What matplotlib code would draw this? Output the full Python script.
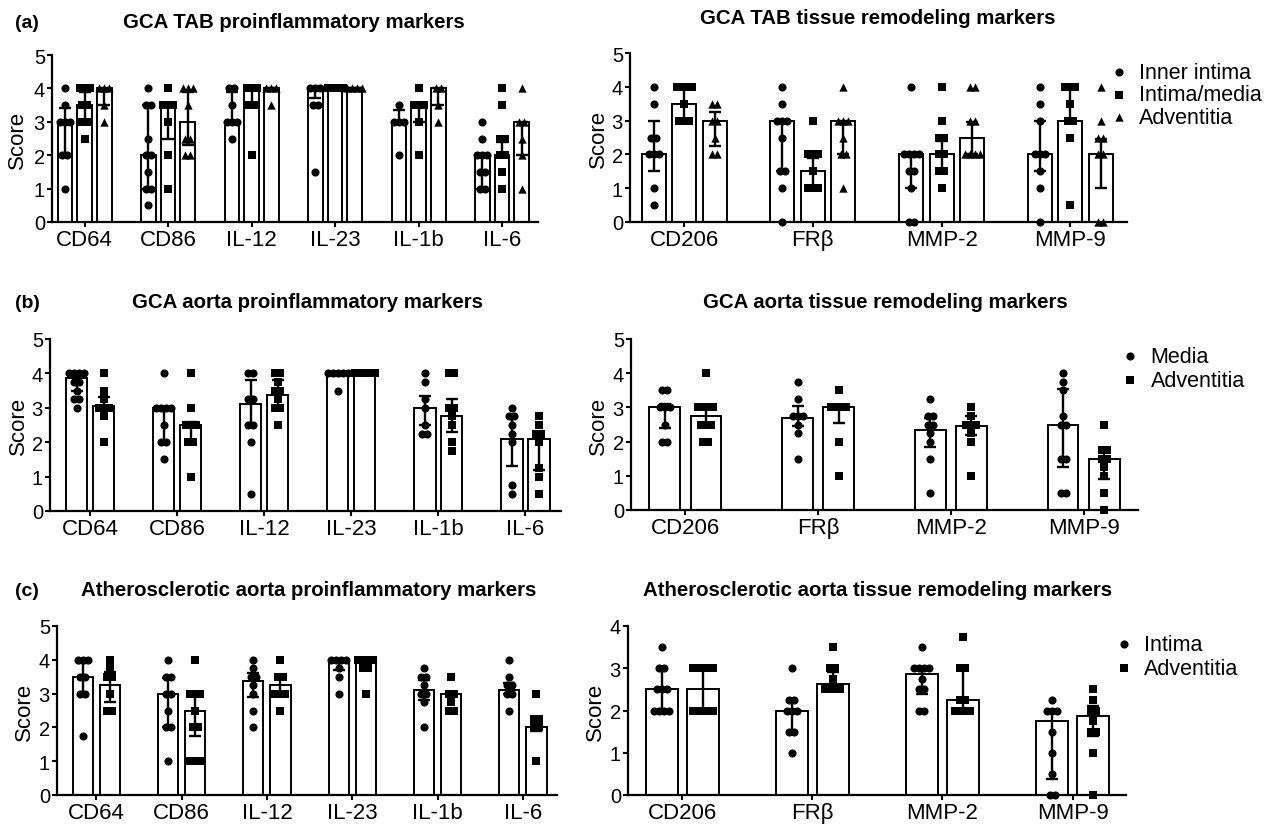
import numpy as np
import matplotlib.pyplot as plt

plt.rcParams["font.family"] = ["Liberation Sans", "DejaVu Sans"]

W, H = 1277, 828

pro_cats = ["CD64", "CD86", "IL-12", "IL-23", "IL-1b", "IL-6"]
rem_cats = ["CD206", "FRβ", "MMP-2", "MMP-9"]

# ---------- (a) GCA TAB proinflammatory ----------
a_pro_inner_bar = [3, 2, 3, 4, 3, 2]
a_pro_inner_lo = [2, 1, 3, 3.7, 3, 1]
a_pro_inner_hi = [3.4, 3.5, 3.9, 4, 3.35, 2]
a_pro_inner_pts = [
    [4, 3.5, 3, 3, 3, 2, 2, 1],
    [4, 3.5, 3.5, 2.5, 2, 2, 1.5, 1, 1, 0.5],
    [4, 4, 3.5, 3, 3, 3, 2.5],
    [4, 4, 4, 3.5, 3.5, 1.5],
    [3.5, 3, 3, 3, 2],
    [3, 2.5, 2, 2, 2, 1.5, 1.5, 1, 1],
]
a_pro_media_bar = [3.5, 3.5, 4, 4, 3.5, 2]
a_pro_media_lo = [3, 2.5, 3.5, 4, 3, 2]
a_pro_media_hi = [3.9, 3.5, 4, 4, 3.5, 2.4]
a_pro_media_pts = [
    [4, 4, 4, 3.5, 3.5, 3, 3, 2.5],
    [4, 3.5, 3.5, 3.5, 3, 2, 1],
    [4, 4, 4, 3.5, 3.5, 2],
    [4, 4, 4, 4],
    [4, 3.5, 3.5, 3.5, 3, 2],
    [4, 3.5, 2.5, 2.5, 2, 2, 1.5, 1],
]
a_pro_adv_bar = [4, 3, 4, 4, 4, 3]
a_pro_adv_lo = [3.5, 2.3, 4, 4, 3.5, 2]
a_pro_adv_hi = [4, 3.9, 4, 4, 4, 3]
a_pro_adv_pts = [
    [4, 4, 4, 3.5, 3],
    [4, 4, 4, 3.5, 2.5, 2.5, 2, 2],
    [4, 4, 4, 3.5],
    [4, 4, 4, 4],
    [4, 4, 3.5, 3],
    [4, 3, 3, 2.5, 2, 1],
]

# ---------- (a) GCA TAB tissue remodeling ----------
a_rem_inner_bar = [2, 3, 2, 2]
a_rem_inner_lo = [1.5, 1.5, 1, 1.5]
a_rem_inner_hi = [3, 3, 2, 3]
a_rem_inner_pts = [
    [4, 3.5, 2.5, 2.5, 2, 2, 2, 1, 0.5],
    [4, 3.5, 3, 3, 3, 2.5, 1.5, 1.5, 1, 0],
    [4, 2, 2, 2, 2, 1.5, 1.5, 1, 0, 0],
    [4, 3.5, 3, 2, 2, 2, 1.5, 1, 0],
]
a_rem_media_bar = [3.5, 1.5, 2, 3]
a_rem_media_lo = [3, 1, 1.5, 3]
a_rem_media_hi = [4, 1.9, 2.4, 4]
a_rem_media_pts = [
    [4, 4, 4, 4, 3.5, 3, 3, 3],
    [3, 2, 2, 2, 1.5, 1, 1, 1],
    [4, 3, 2.5, 2.5, 2, 2, 1.5, 1.5, 1],
    [4, 4, 4, 3.5, 3, 3, 2.5, 0.5],
]
a_rem_adv_bar = [3, 3, 2.5, 2]
a_rem_adv_lo = [2.25, 2, 2, 1]
a_rem_adv_hi = [3.25, 3, 2.95, 2.45]
a_rem_adv_pts = [
    [3.5, 3.5, 3, 3, 2.5, 2, 2],
    [4, 3, 3, 3, 2.5, 2, 2, 1],
    [4, 4, 3, 3, 2, 2, 2, 2],
    [4, 3, 2.5, 2.5, 2, 2, 0, 0],
]

# ---------- (b) GCA aorta proinflammatory ----------
b_pro_media_bar = [3.875, 3, 3.1, 4, 3, 2.1]
b_pro_media_lo = [3.5, 2, 2.5, 3.95, 2.5, 1.3]
b_pro_media_hi = [4, 3, 3.8, 4, 3.35, 2.75]
b_pro_media_pts = [
    [4, 4, 4, 4, 3.75, 3.75, 3.5, 3.25, 3.25, 3],
    [4, 3, 3, 3, 3, 2.5, 2, 2, 1.5],
    [4, 4, 3.25, 3.25, 2.5, 2.5, 2, 0.5],
    [4, 4, 4, 4, 4, 3.5],
    [4, 3.75, 3.25, 3, 2.5, 2.25, 2.25],
    [3, 2.75, 2.75, 2.5, 2.25, 2, 0.75, 0.5],
]
b_pro_adv_bar = [3.05, 2.5, 3.375, 4, 2.75, 2.1]
b_pro_adv_lo = [3, 2, 3, 4, 2.3, 1.2]
b_pro_adv_hi = [3.3, 2.6, 3.8, 4, 3.25, 2.3]
b_pro_adv_pts = [
    [4, 3.5, 3.25, 3, 3, 3, 2.75, 2],
    [4, 3, 2.5, 2.5, 2.5, 2, 2, 1],
    [4, 4, 3.75, 3.5, 3.5, 3.25, 3, 3, 2.5],
    [4, 4, 4, 4, 4],
    [4, 4, 3, 3, 2.75, 2.5, 2, 1.75],
    [2.75, 2.5, 2.25, 2.25, 2, 1.25, 1, 0.5],
]

# ---------- (b) GCA aorta tissue remodeling ----------
b_rem_media_bar = [3, 2.7, 2.35, 2.5]
b_rem_media_lo = [2.4, 2.45, 1.85, 1.25]
b_rem_media_hi = [3.1, 3.05, 2.7, 3.55]
b_rem_media_pts = [
    [3.5, 3.5, 3, 3, 3, 2.5, 2, 2],
    [3.75, 3.25, 2.75, 2.75, 2.75, 2.5, 2.25, 1.5],
    [3.25, 2.75, 2.75, 2.5, 2.5, 2.25, 2, 1.5, 0.5],
    [4, 3.75, 3.5, 2.75, 2.5, 2.5, 1.5, 1.5, 0.5, 0.5],
]
b_rem_adv_bar = [2.75, 3, 2.45, 1.5]
b_rem_adv_lo = [2.5, 2.55, 2.2, 0.9]
b_rem_adv_hi = [3, 3, 2.75, 1.75]
b_rem_adv_pts = [
    [4, 3, 3, 3, 3, 2.5, 2.5, 2.5, 2, 2],
    [3.5, 3, 3, 3, 3, 2, 1],
    [3, 2.75, 2.5, 2.5, 2.5, 2.25, 2, 1],
    [2.5, 1.75, 1.75, 1.5, 1.5, 1.25, 1, 0.5, 0],
]

# ---------- (c) Atherosclerotic aorta proinflammatory ----------
c_pro_intima_bar = [3.5, 3, 3.375, 3.93, 3.1, 3.1]
c_pro_intima_lo = [3, 2, 2.9, 3.7, 2.8, 3]
c_pro_intima_hi = [3.9, 3.45, 3.6, 4, 3.4, 3.3]
c_pro_intima_pts = [
    [4, 4, 4, 3.5, 3.5, 3, 3, 1.75],
    [4, 3.5, 3.5, 3, 3, 2.5, 2, 2, 1],
    [4, 3.75, 3.5, 3.5, 3.25, 3, 2.5, 2],
    [4, 4, 4, 4, 3.75, 3.5, 3],
    [3.75, 3.5, 3.5, 3.25, 3, 3, 2.75, 2],
    [4, 3.5, 3.25, 3.25, 3, 3, 2.5],
]
c_pro_adv_bar = [3.25, 2.5, 3.25, 3.95, 3, 2]
c_pro_adv_lo = [2.75, 1.75, 3, 3.8, 3, 1.9]
c_pro_adv_hi = [3.65, 2.95, 3.5, 4, 3, 2.25]
c_pro_adv_pts = [
    [4, 3.75, 3.5, 3.5, 3, 2.5, 2.5],
    [4, 3, 3, 3, 2.5, 2, 2, 1, 1, 1],
    [4, 3.5, 3.5, 3, 3, 3, 2.5],
    [4, 4, 4, 4, 3.75, 3.75, 3],
    [3.5, 3, 3, 2.75, 2.5, 2.5],
    [3, 2.25, 2.25, 2, 2, 1],
]

# ---------- (c) Atherosclerotic aorta tissue remodeling ----------
c_rem_intima_bar = [2.5, 2, 2.875, 1.75]
c_rem_intima_lo = [2, 1.5, 2.4, 0.375]
c_rem_intima_hi = [3, 2.25, 3, 2]
c_rem_intima_pts = [
    [3.5, 3, 3, 2.5, 2.5, 2.5, 2, 2, 2, 2],
    [3, 2.25, 2.25, 2, 2, 2, 1.5, 1.5, 1],
    [3.5, 3, 3, 3, 3, 2.75, 2.5, 2.5, 2, 2],
    [2.25, 2, 2, 2, 1.5, 1, 0.5, 0, 0],
]
c_rem_adv_bar = [2.5, 2.625, 2.25, 1.875]
c_rem_adv_lo = [2, 2.5, 2, 1.4]
c_rem_adv_hi = [3, 2.9, 2.95, 2.1]
c_rem_adv_pts = [
    [3, 3, 3, 3, 3, 2, 2, 2, 2, 2],
    [3.5, 3, 3, 2.75, 2.5, 2.5, 2.5, 2.5],
    [3.75, 3, 3, 2.25, 2.25, 2, 2, 2, 2],
    [2.5, 2.25, 2, 2, 1.75, 1.5, 1.5, 1, 0],
]

MARK = {"o": 34, "s": 30, "^": 36}

fig = plt.figure(figsize=(W / 100, H / 100), dpi=100)


def panel(box, cats, series, step, width, xlim, ymax, title, tx, ty,
          label_x, legend=None):
    x0, y0, x1, y1 = box
    ax = fig.add_axes([x0 / W, 1 - y1 / H, (x1 - x0) / W, (y1 - y0) / H])
    x = np.arange(len(cats))
    n = len(series)
    px_per_unit = (x1 - x0) / (xlim[1] - xlim[0])
    dx = 5.0 / px_per_unit
    handles = []
    for k, (bar, lo, hi, pts, mk, lab) in enumerate(series):
        bar = np.array(bar, float)
        pos = x + (k - (n - 1) / 2) * step
        ax.bar(pos, bar, width, color="white", edgecolor="black",
               linewidth=1.4, zorder=1)
        ax.errorbar(pos, bar, yerr=[bar - np.array(lo), np.array(hi) - bar],
                    fmt="none", ecolor="black", elinewidth=1.7, capsize=4.5,
                    capthick=1.7, zorder=2)
        xs, ys = [], []
        for p, vals in zip(pos, pts):
            vals = np.array(vals, float)
            for v in np.unique(vals):
                c = int((vals == v).sum())
                offs = (np.arange(c) - (c - 1) / 2) * dx
                xs += list(p + offs)
                ys += [v] * c
        sc = ax.scatter(xs, ys, marker=mk, s=MARK[mk], color="black",
                        linewidths=0, zorder=3, clip_on=False, label=lab)
        handles.append(sc)
    ax.set_xlim(*xlim)
    ax.set_ylim(0, ymax)
    ax.set_yticks(range(0, ymax + 1))
    ax.set_xticks(x)
    ax.set_xticklabels(cats, fontsize=16)
    ax.tick_params(axis="y", labelsize=14.5, width=1.5, length=3.6, pad=1.5)
    ax.tick_params(axis="x", width=1.5, length=3.6, pad=1.5)
    ax.spines["right"].set_visible(False)
    ax.spines["top"].set_visible(False)
    ax.spines["left"].set_linewidth(1.6)
    ax.spines["bottom"].set_linewidth(1.6)
    ax.set_ylabel("Score", fontsize=16)
    ax.yaxis.set_label_coords((label_x - x0) / (x1 - x0), 0.5)
    ax.yaxis.label.set_verticalalignment("center")
    fig.text(tx / W, 1 - ty / H, title, ha="center", va="center",
             fontsize=14.7, fontweight="bold")
    if legend is not None:
        lx, ly, pad, sp = legend
        ax.legend(handles=handles, loc="upper left",
                  bbox_to_anchor=(lx / W, 1 - ly / H),
                  bbox_transform=fig.transFigure, frameon=False,
                  borderpad=0, borderaxespad=0, handlelength=0.8,
                  handletextpad=pad, labelspacing=sp, fontsize=15.5,
                  scatterpoints=1)
    return ax


panel((52, 56, 538, 223), pro_cats, [
    (a_pro_inner_bar, a_pro_inner_lo, a_pro_inner_hi, a_pro_inner_pts, "o", "Inner intima"),
    (a_pro_media_bar, a_pro_media_lo, a_pro_media_hi, a_pro_media_pts, "s", "Intima/media"),
    (a_pro_adv_bar, a_pro_adv_lo, a_pro_adv_hi, a_pro_adv_pts, "^", "Adventitia"),
], 0.236, 0.175, (-0.39, 5.43), 5, "GCA TAB proinflammatory markers", 294, 23, 17)

panel((630, 54, 1127, 223), rem_cats, [
    (a_rem_inner_bar, a_rem_inner_lo, a_rem_inner_hi, a_rem_inner_pts, "o", "Inner intima"),
    (a_rem_media_bar, a_rem_media_lo, a_rem_media_hi, a_rem_media_pts, "s", "Intima/media"),
    (a_rem_adv_bar, a_rem_adv_lo, a_rem_adv_hi, a_rem_adv_pts, "^", "Adventitia"),
], 0.237, 0.186, (-0.42, 3.44), 5, "GCA TAB tissue remodeling markers", 878, 19, 598,
    legend=(1110, 63, 0.53, 0.06))

panel((50, 340, 561, 512), pro_cats, [
    (b_pro_media_bar, b_pro_media_lo, b_pro_media_hi, b_pro_media_pts, "o", "Media"),
    (b_pro_adv_bar, b_pro_adv_lo, b_pro_adv_hi, b_pro_adv_pts, "s", "Adventitia"),
], 0.31, 0.247, (-0.46, 5.41), 5, "GCA aorta proinflammatory markers", 308, 303, 18)

panel((631, 340, 1138, 511), rem_cats, [
    (b_rem_media_bar, b_rem_media_lo, b_rem_media_hi, b_rem_media_pts, "o", "Media"),
    (b_rem_adv_bar, b_rem_adv_lo, b_rem_adv_hi, b_rem_adv_pts, "s", "Adventitia"),
], 0.31, 0.233, (-0.41, 3.41), 5, "GCA aorta tissue remodeling markers", 885, 302, 598,
    legend=(1121, 347, 0.58, 0.12))

panel((57, 627, 557, 796), pro_cats, [
    (c_pro_intima_bar, c_pro_intima_lo, c_pro_intima_hi, c_pro_intima_pts, "o", "Intima"),
    (c_pro_adv_bar, c_pro_adv_lo, c_pro_adv_hi, c_pro_adv_pts, "s", "Adventitia"),
], 0.318, 0.238, (-0.46, 5.40), 5, "Atherosclerotic aorta proinflammatory markers", 309, 591, 24)

panel((628, 627, 1126, 796), rem_cats, [
    (c_rem_intima_bar, c_rem_intima_lo, c_rem_intima_hi, c_rem_intima_pts, "o", "Intima"),
    (c_rem_adv_bar, c_rem_adv_lo, c_rem_adv_hi, c_rem_adv_pts, "s", "Adventitia"),
], 0.315, 0.246, (-0.415, 3.41), 4, "Atherosclerotic aorta tissue remodeling markers", 878, 591, 595,
    legend=(1115, 635, 0.53, 0.12))

for lab, yy in [("(a)", 23), ("(b)", 303), ("(c)", 592)]:
    fig.text(15 / W, 1 - yy / H, lab, ha="left", va="center",
             fontsize=14, fontweight="bold")

fig.savefig("out.png", dpi=100)
